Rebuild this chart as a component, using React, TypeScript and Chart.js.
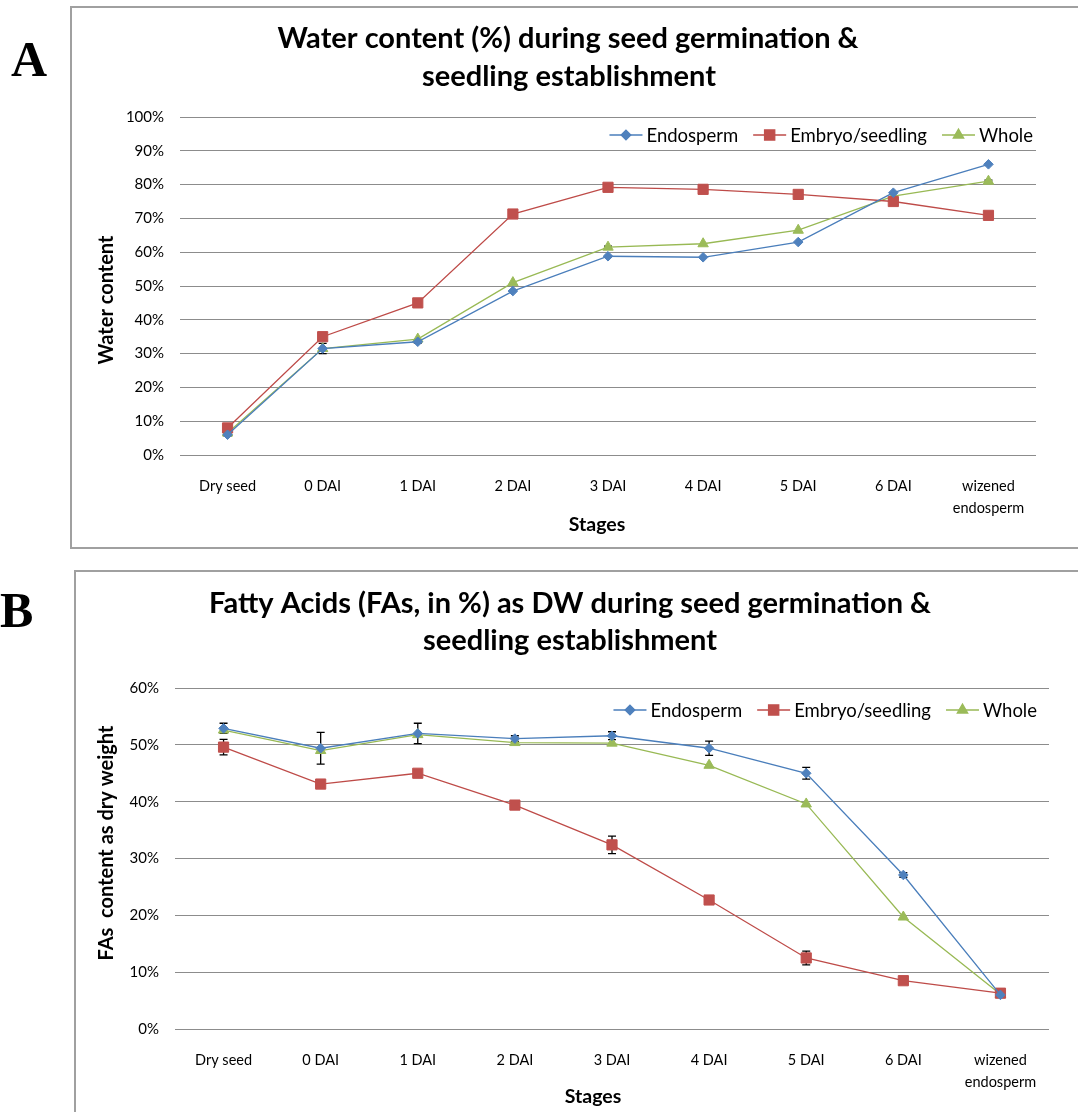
import React, { useEffect, useRef } from "react";
import { Chart, registerables } from "chart.js";
import { drawPoint } from "chart.js/helpers";

Chart.register(...registerables);

// ---- data ----
const stages: (string | string[])[] = [
  "Dry seed",
  "0 DAI",
  "1 DAI",
  "2 DAI",
  "3 DAI",
  "4 DAI",
  "5 DAI",
  "6 DAI",
  ["wizened", "endosperm"],
];

const seriesNames = ["Endosperm", "Embryo/seedling", "Whole"];

// Water content (%)
const waterEndosperm = [6.0, 31.5, 33.5, 48.5, 58.8, 58.5, 63.0, 77.6, 86.0];
const waterEmbryo = [8.0, 35.0, 45.0, 71.3, 79.2, 78.6, 77.1, 75.0, 70.9];
const waterWhole = [6.5, 31.5, 34.3, 51.0, 61.5, 62.5, 66.5, 76.6, 81.0];
const waterEndospermErr = [0.4, 1.5, 0.4, 0, 0, 0, 0, 0, 0];
const waterEmbryoErr = [0, 0, 0, 0, 0, 0, 0, 0, 0];
const waterWholeErr = [0, 0, 0, 0, 0.3, 0, 0, 0, 0.3];

// Fatty acids (% of dry weight)
const faEndosperm = [52.9, 49.4, 52.0, 51.1, 51.6, 49.4, 45.0, 27.1, 6.0];
const faEmbryo = [49.6, 43.1, 45.0, 39.4, 32.4, 22.7, 12.5, 8.5, 6.3];
const faWhole = [52.6, 49.0, 51.8, 50.4, 50.3, 46.4, 39.6, 19.7, 6.1];
const faEndospermErr = [0.9, 2.8, 1.8, 0.5, 0.7, 1.25, 1.05, 0.4, 0.3];
const faEmbryoErr = [1.35, 0.5, 0.3, 0.3, 1.55, 0.3, 1.2, 0.3, 0.3];
const faWholeErr = [0, 0, 0, 0, 0, 0, 0, 0, 0];

// ---- styling ----
const FONT = "Lato, 'Open Sans', sans-serif";
const lineColors = ["#4A7EBB", "#BE4B48", "#98B954"];
const markerFill = ["#4F81BD", "#C0504D", "#9BBB59"];
const markerStyle = ["rectRot", "rect", "triangle"];
const markerRadius = [4.8, 7.2, 6];

function buildDatasets(values: number[][], errors: number[][]) {
  return values.map((v, i) => ({
    label: seriesNames[i],
    data: v,
    errors: errors[i],
    borderColor: lineColors[i],
    backgroundColor: markerFill[i],
    borderWidth: 1.3,
    pointStyle: markerStyle[i],
    pointRadius: markerRadius[i],
    pointBackgroundColor: markerFill[i],
    pointBorderColor: markerFill[i],
    pointBorderWidth: 1,
    tension: 0,
  }));
}

// vertical error bars with caps, drawn from each dataset's `errors`
const errorBarsPlugin = {
  id: "errorBars",
  beforeDatasetsDraw(chart: any) {
    const { ctx } = chart;
    const yScale = chart.scales.y;
    ctx.save();
    ctx.strokeStyle = "#000";
    ctx.lineWidth = 1.3;
    chart.data.datasets.forEach((ds: any, di: number) => {
      const meta = chart.getDatasetMeta(di);
      (ds.errors || []).forEach((e: number, i: number) => {
        if (!e) return;
        const x = meta.data[i].x;
        const v = ds.data[i];
        const yTop = yScale.getPixelForValue(v + e);
        const yBot = yScale.getPixelForValue(v - e);
        ctx.beginPath();
        ctx.moveTo(x, yTop);
        ctx.lineTo(x, yBot);
        ctx.moveTo(x - 4, yTop);
        ctx.lineTo(x + 4, yTop);
        ctx.moveTo(x - 4, yBot);
        ctx.lineTo(x + 4, yBot);
        ctx.stroke();
      });
    });
    ctx.restore();
  },
};

// line-with-marker legend, right aligned inside the plot area
const lineLegendPlugin = {
  id: "lineLegend",
  afterDraw(chart: any, _args: any, opts: any) {
    const { ctx, chartArea } = chart;
    ctx.save();
    ctx.font = `${opts.fontSize}px ${FONT}`;
    ctx.textBaseline = "middle";
    const lineLen = 33;
    const textGap = 4;
    const itemGap = 15;
    const items = chart.data.datasets.map((ds: any) => ({
      ds,
      w: lineLen + textGap + ctx.measureText(ds.label).width,
    }));
    const total = items.reduce((s: number, it: any) => s + it.w, 0) + itemGap * (items.length - 1);
    let x = chartArea.right - opts.rightInset - total;
    const y = chartArea.top + opts.topOffset;
    items.forEach((it: any) => {
      const ds = it.ds;
      ctx.strokeStyle = ds.borderColor;
      ctx.lineWidth = 1.3;
      ctx.beginPath();
      ctx.moveTo(x, y);
      ctx.lineTo(x + lineLen, y);
      ctx.stroke();
      ctx.fillStyle = ds.pointBackgroundColor;
      ctx.strokeStyle = ds.pointBorderColor;
      drawPoint(ctx, { pointStyle: ds.pointStyle, radius: ds.pointRadius, borderWidth: 1, rotation: 0 }, x + lineLen / 2, y);
      ctx.fillStyle = "#000";
      ctx.textAlign = "left";
      ctx.fillText(ds.label, x + lineLen + textGap, y + 1);
      x += it.w + itemGap;
    });
    ctx.restore();
  },
};

// chart heading and axis titles
const panelTextPlugin = {
  id: "panelText",
  afterDraw(chart: any, _args: any, opts: any) {
    const { ctx } = chart;
    (opts.items || []).forEach((t: any) => {
      ctx.save();
      ctx.font = `bold ${t.size}px ${FONT}`;
      ctx.fillStyle = "#000";
      ctx.textAlign = "center";
      ctx.textBaseline = "alphabetic";
      ctx.translate(t.x, t.y);
      if (t.rotate) ctx.rotate(-Math.PI / 2);
      ctx.fillText(t.text, 0, 0);
      ctx.restore();
    });
  },
};

type PanelProps = {
  left: number;
  top: number;
  width: number;
  height: number;
  datasets: any[];
  yMax: number;
  padTop: number;
  padRight: number;
  yAxisWidth: number;
  xAxisHeight: number;
  texts: any[];
  legendTop: number;
  legendInset: number;
};

function StagePanel(p: PanelProps) {
  const ref = useRef<HTMLCanvasElement>(null);
  useEffect(() => {
    if (!ref.current) return;
    const chart = new Chart(ref.current, {
      type: "line",
      data: { labels: stages as any, datasets: p.datasets },
      options: {
        responsive: false,
        animation: false,
        devicePixelRatio: 1,
        layout: { padding: { top: p.padTop, right: p.padRight, left: 0, bottom: 0 } },
        scales: {
          x: {
            offset: true,
            grid: { display: false, drawTicks: false },
            border: { display: false },
            ticks: {
              padding: 20,
              color: "#000",
              maxRotation: 0,
              autoSkip: false,
              font: { family: FONT, size: 14.5, lineHeight: "22px" },
            },
            afterFit(scale: any) {
              scale.height = p.xAxisHeight;
            },
          },
          y: {
            min: 0,
            max: p.yMax,
            grid: { color: "#8c8c8c", lineWidth: 1, drawTicks: false },
            border: { display: false },
            ticks: {
              stepSize: 10,
              padding: 16,
              color: "#000",
              font: { family: FONT, size: 15 },
              callback: (v: any) => `${v}%`,
            },
            afterFit(scale: any) {
              scale.width = p.yAxisWidth;
            },
          },
        },
        plugins: {
          legend: { display: false },
          title: { display: false },
          tooltip: { enabled: false },
          lineLegend: { fontSize: 18.5, topOffset: p.legendTop, rightInset: p.legendInset },
          panelText: { items: p.texts },
        } as any,
      },
      plugins: [errorBarsPlugin, lineLegendPlugin, panelTextPlugin],
    });
    return () => chart.destroy();
  }, []);
  return (
    <canvas
      ref={ref}
      width={p.width}
      height={p.height}
      style={{ position: "absolute", left: p.left, top: p.top, width: p.width, height: p.height }}
    />
  );
}

const letterStyle: React.CSSProperties = {
  position: "absolute",
  fontFamily: "'Liberation Serif', 'Times New Roman', serif",
  fontWeight: "bold",
  fontSize: 50,
  lineHeight: "50px",
  color: "#000",
};

export default function App() {
  const waterSets = buildDatasets(
    [waterEndosperm, waterEmbryo, waterWhole],
    [waterEndospermErr, waterEmbryoErr, waterWholeErr]
  );
  const faSets = buildDatasets(
    [faEndosperm, faEmbryo, faWhole],
    [faEndospermErr, faEmbryoErr, faWholeErr]
  );
  return (
    <div style={{ position: "absolute", left: 0, top: 0, width: 1078, height: 1112, background: "#fff", overflow: "hidden" }}>
      <div style={{ ...letterStyle, left: 11, top: 34 }}>A</div>
      <div style={{ ...letterStyle, left: 0, top: 585 }}>B</div>

      <div style={{ position: "absolute", left: 70, top: 6, width: 1020, height: 539, borderLeft: "2px solid #a0a0a0", borderTop: "2px solid #a0a0a0", borderBottom: "2px solid #a0a0a0" }} />
      <div style={{ position: "absolute", left: 74, top: 570, width: 1020, height: 600, borderLeft: "2px solid #a0a0a0", borderTop: "2px solid #a0a0a0" }} />

      <StagePanel
        left={72}
        top={8}
        width={1006}
        height={538}
        datasets={waterSets}
        yMax={100}
        padTop={109}
        padRight={42}
        yAxisWidth={108}
        xAxisHeight={91}
        legendTop={18}
        legendInset={3}
        texts={[
          { text: "Water content (%) during seed germination &", x: 496, y: 40, size: 29 },
          { text: "seedling establishment", x: 497, y: 78, size: 29 },
          { text: "Water content", x: 41, y: 292, size: 20 },
          { text: "Stages", x: 525, y: 523, size: 19.5 },
        ].map((t, i) => (i === 2 ? { ...t, rotate: true } : t))}
      />

      <StagePanel
        left={76}
        top={572}
        width={1002}
        height={540}
        datasets={faSets}
        yMax={60}
        padTop={116}
        padRight={29}
        yAxisWidth={99}
        xAxisHeight={83}
        legendTop={22}
        legendInset={12}
        texts={[
          { text: "Fatty Acids (FAs, in %) as DW during seed germination &", x: 494, y: 41, size: 29 },
          { text: "seedling establishment", x: 494, y: 78, size: 29 },
          { text: "FAs  content as dry weight", x: 37, y: 271, size: 20, rotate: true },
          { text: "Stages", x: 517, y: 531, size: 19.5 },
        ]}
      />
    </div>
  );
}
